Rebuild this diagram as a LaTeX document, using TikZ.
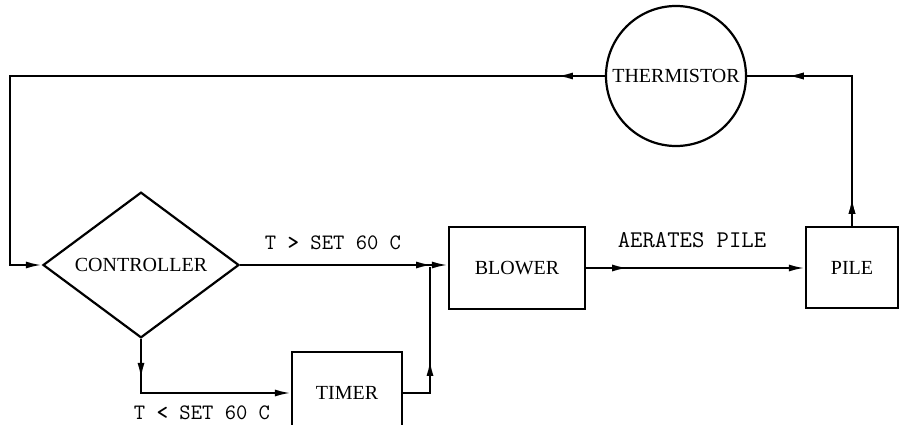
\documentclass[tikz,border=0pt]{standalone}
\usepackage{fontspec}
\setmainfont{Liberation Serif}
\usepackage{tikz}
\usetikzlibrary{positioning,arrows.meta,shapes.geometric,decorations.markings}

\begin{document}
\begin{tikzpicture}[x=1pt,y=-1pt,>={Latex[length=16pt,width=7pt]},
  blk/.style={rectangle,draw,line width=2.2pt,inner sep=0pt,font=\fontsize{20}{24}\selectfont},
  dec/.style={diamond,draw,line width=2.2pt,inner sep=0pt,minimum width=196pt,minimum height=115pt,font=\fontsize{20}{24}\selectfont},
  sen/.style={circle,draw,line width=2.2pt,inner sep=0pt,minimum size=140pt,font=\fontsize{20}{24}\selectfont},
  lab/.style={font=\ttfamily\fontsize{22}{26}\selectfont},
  ar/.style={line width=2.2pt},
  midar/.style={postaction={decorate},decoration={markings,mark=at position #1 with {\arrow{>}}}}]
  \clip (0,0) rectangle (899,425);
  \node[dec] (ctl) at (141,265) {CONTROLLER};
  \node[blk,minimum width=136pt,minimum height=82pt] (blw) at (517,268) {BLOWER\hspace{18pt}};
  \node[blk,minimum width=110pt,minimum height=82pt] (tmr) at (347,393) {TIMER};
  \node[blk,minimum width=92pt,minimum height=81pt] (pil) at (852,267.5) {PILE};
  \node[sen] (thm) at (676,76) {THERMISTOR};
  \coordinate (jn) at (430,267);
  % labels
  \node[lab] (l1) at (333,243) {T \textbf{>} SET 60 C};
  \node[lab] (l2) at (202,413) {T \textbf{<} SET 60 C};
  \node[lab,font=\ttfamily\fontsize{24}{28}\selectfont] (l3) at (692,240) {AERATES PILE};
  % flow
  \draw[ar,->,midar=192pt] (ctl.east) -- (blw.west |- ctl.east);
  \draw[ar,->,midar=40pt] (ctl.south) |- (tmr.west);
  \draw[ar,midar=60pt] (tmr.east) -| (jn);
  \draw[ar,->,midar=42pt] (blw.east) -- (pil.west |- blw.east);
  \draw[ar,midar=28pt,midar=214pt] (pil.north) |- (thm.east);
  \draw[ar,->,midar=48pt] (thm.west) -- (10,76) |- (ctl.west);
\end{tikzpicture}
\end{document}
